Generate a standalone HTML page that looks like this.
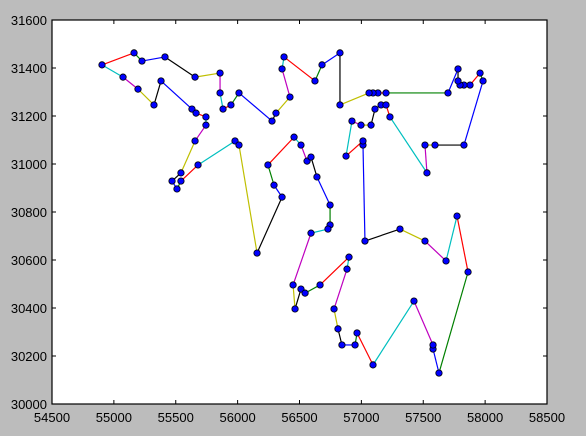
<!DOCTYPE html>
<html><head><meta charset="utf-8"><style>
html,body{margin:0;padding:0;background:#bcbcbc;}
svg{display:block;font-family:"Liberation Sans",sans-serif;}
</style></head><body>
<svg id="chart" width="586" height="436" xmlns="http://www.w3.org/2000/svg">
<rect x="0" y="0" width="586" height="436" fill="#bcbcbc"/>
<rect x="52" y="20" width="495" height="384" fill="#fff"/>
<g id="lines"></g>
<g id="pts"></g>
<g id="axes"></g>
<rect x="52" y="20" width="495" height="384" fill="none" stroke="#000" stroke-width="1.2"/>
</svg>
<script>
const xs=[57579,57627,57862,57773,57684,57514,57312,57029,57013,57013,56876,56924,56997,57078,57110,57159,57199,57231,57530,57514,57595,57829,57983,57959,57878,57829,57797,57781,57781,57700,57199,57134,57094,57062,56827,56827,56682,56625,56375,56359,56423,56310,56278,56011,55946,55882,55858,55858,55656,55413,55227,55163,54904,55074,55195,55324,55381,55631,55664,55744,55744,55656,55542,55470,55510,55542,55680,55979,56011,56157,56359,56294,56245,56456,56512,56561,56593,56641,56747,56747,56730,56593,56448,56464,56512,56545,56666,56900,56884,56779,56811,56843,56949,56965,57094,57425,57579];
const ys=[30229,30129,30550,30783,30596,30679,30729,30679,31079,31096,31033,31179,31162,31162,31229,31246,31246,31196,30963,31079,31079,31079,31346,31379,31329,31329,31329,31346,31396,31296,31296,31296,31296,31296,31246,31463,31413,31346,31446,31396,31279,31212,31179,31296,31246,31229,31296,31379,31362,31446,31429,31463,31413,31362,31312,31246,31346,31229,31212,31196,31162,31096,30963,30929,30896,30929,30996,31096,31079,30629,30862,30912,30996,31112,31079,31012,31029,30946,30829,30746,30729,30712,30496,30396,30479,30462,30496,30612,30562,30396,30313,30246,30246,30296,30163,30429,30246];
const xTicks=[54500,55000,55500,56000,56500,57000,57500,58000,58500];
const yTicks=[30000,30200,30400,30600,30800,31000,31200,31400,31600];
const colors=["#0000ff","#008000","#ff0000","#00bfbf","#bf00bf","#bfbf00","#000000"];
const NS="http://www.w3.org/2000/svg";
function sx(v){return 52+(v-54500)*495/4000;}
function sy(v){return 404-(v-30000)*384/1600;}
const L=document.getElementById('lines'),P=document.getElementById('pts'),A=document.getElementById('axes');
const n=xs.length;
for(let i=0;i<n;i++){
  const j=(i+1)%n;
  const ln=document.createElementNS(NS,'line');
  ln.setAttribute('x1',sx(xs[i]));ln.setAttribute('y1',sy(ys[i]));
  ln.setAttribute('x2',sx(xs[j]));ln.setAttribute('y2',sy(ys[j]));
  ln.setAttribute('stroke',colors[i%7]);ln.setAttribute('stroke-width','1.2');
  
  
  L.appendChild(ln);
}
for(let i=0;i<n;i++){
  const c=document.createElementNS(NS,'circle');
  c.setAttribute('cx',sx(xs[i]));c.setAttribute('cy',sy(ys[i]));c.setAttribute('r','3.2');
  c.setAttribute('fill','#0000ff');c.setAttribute('stroke','#000');c.setAttribute('stroke-width','0.8');
  
  
  P.appendChild(c);
}
xTicks.forEach(v=>{
  const x=sx(v);
  [[404,400],[20,24]].forEach(([a,b])=>{const t=document.createElementNS(NS,'line');t.setAttribute('x1',x);t.setAttribute('x2',x);t.setAttribute('y1',a);t.setAttribute('y2',b);t.setAttribute('stroke','#000');
  
  
  A.appendChild(t);});
  const tx=document.createElementNS(NS,'text');tx.setAttribute('x',x);tx.setAttribute('y',422);tx.setAttribute('text-anchor','middle');tx.setAttribute('font-size','13');tx.textContent=v;
  
  
  A.appendChild(tx);
});
yTicks.forEach(v=>{
  const y=sy(v);
  [[52,56],[547,543]].forEach(([a,b])=>{const t=document.createElementNS(NS,'line');t.setAttribute('x1',a);t.setAttribute('x2',b);t.setAttribute('y1',y);t.setAttribute('y2',y);t.setAttribute('stroke','#000');
  
  
  A.appendChild(t);});
  const tx=document.createElementNS(NS,'text');tx.setAttribute('x',47);tx.setAttribute('y',y+5);tx.setAttribute('text-anchor','end');tx.setAttribute('font-size','13');tx.textContent=v;
  
  
  A.appendChild(tx);
});
</script>
</body></html>
